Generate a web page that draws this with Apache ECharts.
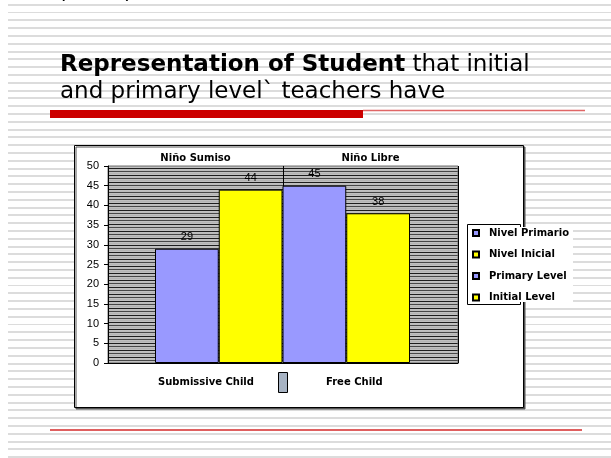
<!DOCTYPE html>
<html>
<head>
<meta charset="utf-8">
<script src="https://cdn.jsdelivr.net/npm/echarts@6/dist/echarts.min.js"></script>
<style>
  html, body { margin: 0; padding: 0; background: #fff; }
  #stage { position: relative; width: 611px; height: 458px; overflow: hidden; }
  #lines {
    position: absolute; left: 8px; top: 0; right: 0; bottom: 0;
    background-image: repeating-linear-gradient(to bottom,
      transparent 0, transparent 3.7px, #dcdcdc 3.7px, #dcdcdc 5.7px,
      transparent 5.7px, transparent 7.8px);
  }
  #chart { position: absolute; left: 0; top: 0; width: 611px; height: 458px; }
</style>
</head>
<body>
<div id="stage">
  <div id="lines"></div>
  <div id="chart"></div>
</div>
<script>
// values
const topCategories = ['Niño Sumiso', 'Niño Libre']
const bottomCategories = ['Submissive Child', 'Free Child']
const yTicks = [0, 5, 10, 15, 20, 25, 30, 35, 40, 45, 50]

const nivelPrimario = [29, '-']
const nivelInicial = [44, '-']
const primaryLevel = ['-', 45]
const initialLevel = ['-', 38]

const purple = '#9999ff'
const yellow = '#ffff00'

// narrow horizontal hatch used as plot background
function hatch() {
  const c = document.createElement('canvas')
  c.width = 4
  c.height = 7
  const g = c.getContext('2d')
  const rows = ['#1e1e1e', '#c0c0c0', '#bcbcbc', '#474747', '#c0c0c0', '#b4b4b4', '#c0c0c0']
  rows.forEach((col, i) => { g.fillStyle = col; g.fillRect(0, i, 4, 1) })
  return c
}

const chart = echarts.init(document.getElementById('chart'))

const barSeries = (name, data, color, stack) => ({
  name,
  type: 'bar',
  xAxisIndex: 2,
  yAxisIndex: 1,
  stack,
  data,
  barGap: 0,
  barCategoryGap: 0,
  itemStyle: { color, borderColor: '#000', borderWidth: 1 },
  label: {
    show: true,
    position: 'top',
    distance: 6,
    fontFamily: 'Liberation Sans',
    fontSize: 11,
    color: '#000'
  },
  emphasis: { disabled: true }
})

const option = {
  backgroundColor: 'transparent',
  animation: false,
  title: {
    left: 55,
    top: 47,
    text: '{b|Representation of Student} that initial\nand primary level` teachers have',
    textStyle: {
      fontFamily: 'DejaVu Sans',
      fontSize: 23,
      fontWeight: 'normal',
      color: '#000',
      lineHeight: 27,
      rich: {
        b: { fontFamily: 'DejaVu Sans', fontSize: 23, fontWeight: 'bold', color: '#000', lineHeight: 27 }
      }
    }
  },
  graphic: [
    { type: 'text', left: 58, top: -19, z: 1, style: { text: '(', font: '22px DejaVu Sans', fill: '#000' } },
    { type: 'text', left: 124, top: -19, z: 1, style: { text: ')', font: '22px DejaVu Sans', fill: '#000' } },
    { type: 'rect', z: 1, shape: { x: 50, y: 110, width: 313, height: 8 }, style: { fill: '#cc0000' } },
    { type: 'line', z: 1, shape: { x1: 363, y1: 110.5, x2: 585, y2: 110.5 }, style: { stroke: '#e06666', lineWidth: 1.5 } },
    {
      type: 'rect', z: -10,
      shape: { x: 74.5, y: 145.5, width: 449, height: 262 },
      style: { fill: '#fff', stroke: '#000', lineWidth: 1, shadowColor: '#555', shadowOffsetX: 1.5, shadowOffsetY: 1.5 }
    },
    { type: 'line', z: 1, shape: { x1: 50, y1: 430, x2: 582, y2: 430 }, style: { stroke: '#d42a2a', lineWidth: 1.5 } },
    // legend frame, text backdrop overflows the frame like in the slide
    { type: 'rect', z: 1, shape: { x: 467.5, y: 224.5, width: 53, height: 80 }, style: { fill: '#fff', stroke: '#000', lineWidth: 1 } },
    { type: 'rect', z: 1, shape: { x: 468, y: 227, width: 105, height: 75 }, style: { fill: '#fff' } },
    // bottom labels and the stray key box between them
    { type: 'rect', z: 1, shape: { x: 278.5, y: 372.5, width: 9, height: 20 }, style: { fill: '#a7b3c3', stroke: '#000', lineWidth: 1 } },
    {
      type: 'text', z: 1, left: 158, top: 377,
      style: { text: bottomCategories[0], font: 'bold 10px DejaVu Sans', fill: '#000' }
    },
    {
      type: 'text', z: 1, left: 326, top: 377,
      style: { text: bottomCategories[1], font: 'bold 10px DejaVu Sans', fill: '#000' }
    }
  ],
  legend: {
    orient: 'vertical',
    left: 472,
    top: 227,
    padding: 0,
    itemWidth: 6,
    itemHeight: 6,
    itemGap: 9.5,
    icon: 'rect',
    selectedMode: false,
    textStyle: {
      fontFamily: 'DejaVu Sans',
      fontWeight: 'bold',
      fontSize: 10,
      lineHeight: 12,
      color: '#000',
      padding: [0, 0, 0, 5]
    },
    data: ['Nivel Primario', 'Nivel Inicial', 'Primary Level', 'Initial Level']
  },
  grid: [
    {
      left: 108, right: 153, top: 166, bottom: 95,
      show: true,
      backgroundColor: { image: hatch(), repeat: 'repeat' },
      borderColor: '#707070',
      borderWidth: 1
    },
    { left: 155, right: 201, top: 166, bottom: 95, show: false }
  ],
  xAxis: [
    {
      gridIndex: 0,
      type: 'category',
      position: 'top',
      data: topCategories,
      axisLine: { show: false },
      axisTick: { show: false },
      axisLabel: {
        margin: 3,
        fontFamily: 'DejaVu Sans',
        fontWeight: 'bold',
        fontSize: 10,
        color: '#000'
      },
      splitLine: { show: true, lineStyle: { color: '#000', width: 1 } }
    },
    {
      gridIndex: 0,
      type: 'category',
      position: 'bottom',
      data: bottomCategories,
      axisLine: { show: true, lineStyle: { color: '#000', width: 1 } },
      axisTick: { show: false },
      axisLabel: { show: false },
      splitLine: { show: false }
    },
    {
      gridIndex: 1,
      type: 'category',
      data: bottomCategories,
      show: false
    }
  ],
  yAxis: [
    {
      gridIndex: 0,
      type: 'value',
      min: yTicks[0],
      max: yTicks[yTicks.length - 1],
      interval: yTicks[1] - yTicks[0],
      axisLine: { show: true, lineStyle: { color: '#000', width: 1 } },
      axisTick: { show: true, length: 4, lineStyle: { color: '#000' } },
      axisLabel: { margin: 9, fontFamily: 'Liberation Sans', fontSize: 11, color: '#000' },
      splitLine: { show: false }
    },
    {
      gridIndex: 1,
      type: 'value',
      min: yTicks[0],
      max: yTicks[yTicks.length - 1],
      show: false
    }
  ],
  series: [
    barSeries('Nivel Primario', nivelPrimario, purple, 'purple'),
    barSeries('Nivel Inicial', nivelInicial, yellow, 'yellow'),
    barSeries('Primary Level', primaryLevel, purple, 'purple'),
    barSeries('Initial Level', initialLevel, yellow, 'yellow')
  ]
}

chart.setOption(option)
</script>
</body>
</html>
